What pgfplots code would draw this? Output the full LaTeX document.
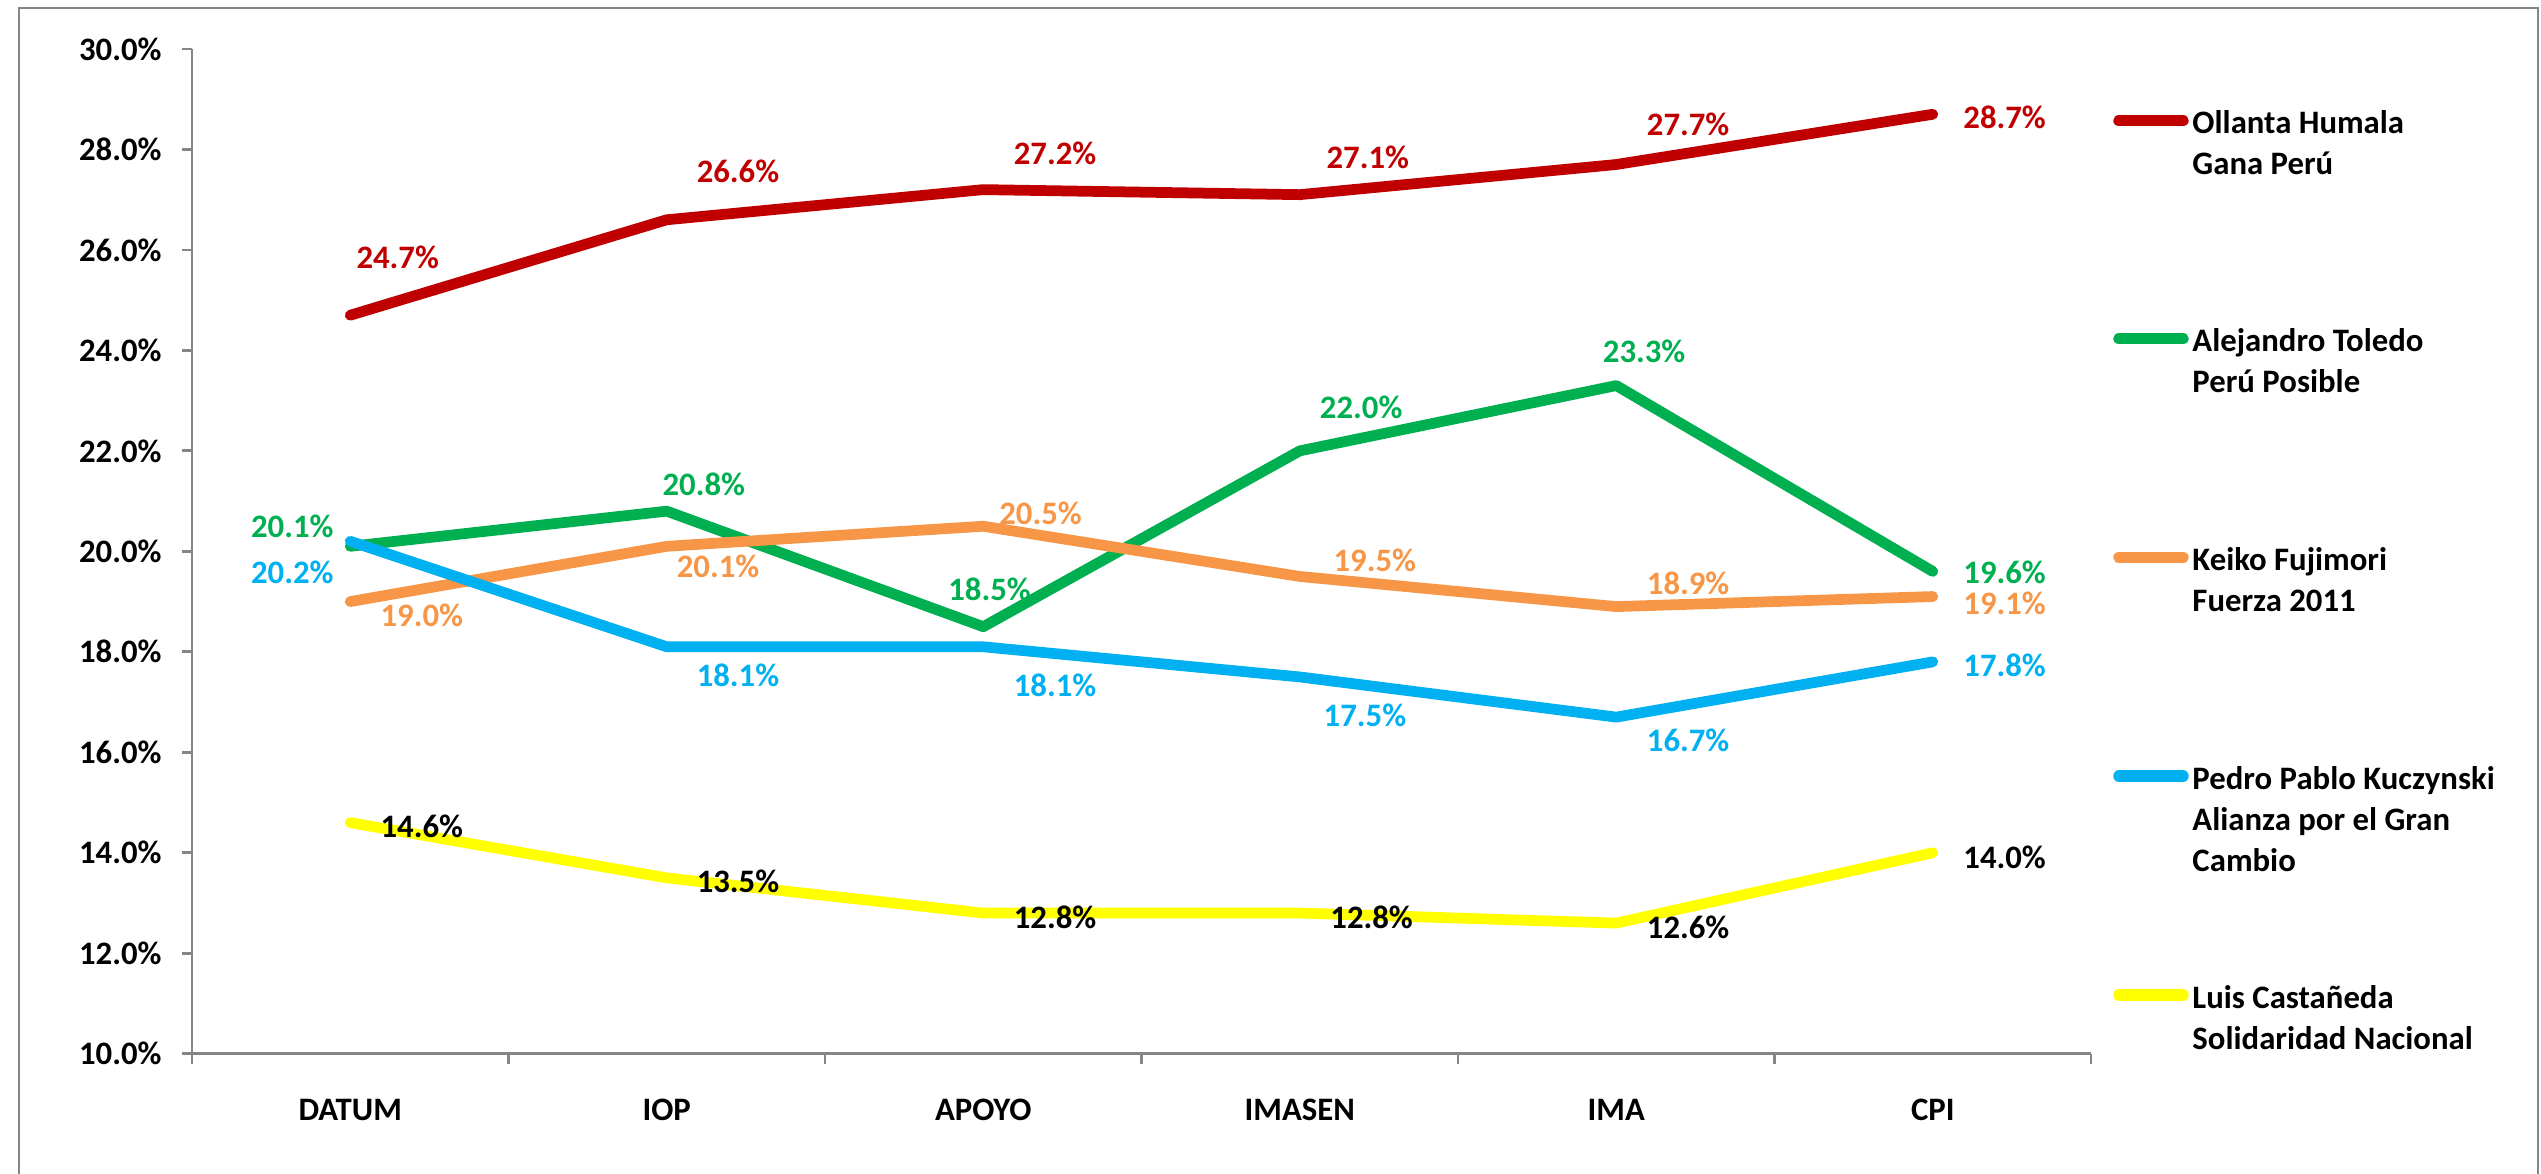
\documentclass[border=0pt]{standalone}
\usepackage{fontspec}
\setmainfont{Carlito}
\usepackage{pgfplots}
\pgfplotsset{compat=1.18}
\definecolor{cRed}{HTML}{C00000}
\definecolor{cGreen}{HTML}{00B050}
\definecolor{cOrange}{HTML}{F79646}
\definecolor{cBlue}{HTML}{00B0F0}
\definecolor{cYellow}{HTML}{FFFF00}
\definecolor{axgray}{HTML}{868686}
\newcommand{\lf}{\fontsize{13.1pt}{16.4pt}\selectfont\bfseries}
\begin{document}
\begin{tikzpicture}
\useasboundingbox (0pt,0pt) rectangle (1016.4pt,-469.2pt);
\draw[axgray, line width=1.1pt] (7.6pt,-480pt) -- (7.6pt,-3.2pt) -- (1015.2pt,-3.2pt) -- (1015.2pt,-480pt);
\begin{axis}[
  at={(76.8pt,-421.48pt)}, anchor=south west,
  width=759.6pt, height=401.9pt, scale only axis,
  xmin=-0.5, xmax=5.5, ymin=10, ymax=30,
  clip=false,
  axis x line*=bottom, axis y line*=left,
  axis line style={draw=axgray, line width=1.1pt},
  tick style={draw=axgray, line width=1.1pt},
  tick align=outside, major tick length=4pt,
  xtick={-0.5,0.5,1.5,2.5,3.5,4.5,5.5},
  x tick label as interval=true,
  xticklabels={DATUM,IOP,APOYO,IMASEN,IMA,CPI},
  ytick={10,12,...,30},
  /pgf/number format/assume math mode=true,
  yticklabel={\pgfmathprintnumber[fixed,fixed zerofill,precision=1]{\tick}\%},
  ticklabel style={font=\lf},
  yticklabel style={inner sep=0pt, xshift=-8pt},
  xticklabel style={inner sep=0pt, yshift=-14pt},
]
\addplot[cRed, line width=4.3pt, line cap=round, line join=round] coordinates {(0,24.7)(1,26.6)(2,27.2)(3,27.1)(4,27.7)(5,28.7)};
\addplot[cGreen, line width=4.3pt, line cap=round, line join=round] coordinates {(0,20.1)(1,20.8)(2,18.5)(3,22.0)(4,23.3)(5,19.6)};
\addplot[cOrange, line width=4.3pt, line cap=round, line join=round] coordinates {(0,19.0)(1,20.1)(2,20.5)(3,19.5)(4,18.9)(5,19.1)};
\addplot[cBlue, line width=4.3pt, line cap=round, line join=round] coordinates {(0,20.2)(1,18.1)(2,18.1)(3,17.5)(4,16.7)(5,17.8)};
\addplot[cYellow, line width=4.3pt, line cap=round, line join=round] coordinates {(0,14.6)(1,13.5)(2,12.8)(3,12.8)(4,12.6)(5,14.0)};
% data labels
\begin{scope}[every node/.style={font=\lf, inner sep=0pt}]
\node[text=cRed] at (axis cs:0.150,25.85) {24.7\%};
\node[text=cRed] at (axis cs:1.225,27.56) {26.6\%};
\node[text=cRed] at (axis cs:2.227,27.93) {27.2\%};
\node[text=cRed] at (axis cs:3.215,27.85) {27.1\%};
\node[text=cRed] at (axis cs:4.227,28.50) {27.7\%};
\node[text=cRed] at (axis cs:5.227,28.63) {28.7\%};
\node[text=cGreen] at (axis cs:-0.183,20.50) {20.1\%};
\node[text=cGreen] at (axis cs:1.117,21.33) {20.8\%};
\node[text=cGreen] at (axis cs:2.020,19.24) {18.5\%};
\node[text=cGreen] at (axis cs:3.194,22.87) {22.0\%};
\node[text=cGreen] at (axis cs:4.088,23.98) {23.3\%};
\node[text=cGreen] at (axis cs:5.227,19.58) {19.6\%};
\node[text=cOrange] at (axis cs:0.226,18.72) {19.0\%};
\node[text=cOrange] at (axis cs:1.162,19.70) {20.1\%};
\node[text=cOrange] at (axis cs:2.181,20.76) {20.5\%};
\node[text=cOrange] at (axis cs:3.237,19.83) {19.5\%};
\node[text=cOrange] at (axis cs:4.227,19.37) {18.9\%};
\node[text=cOrange] at (axis cs:5.227,18.96) {19.1\%};
\node[text=cBlue] at (axis cs:-0.183,19.58) {20.2\%};
\node[text=cBlue] at (axis cs:1.225,17.54) {18.1\%};
\node[text=cBlue] at (axis cs:2.227,17.34) {18.1\%};
\node[text=cBlue] at (axis cs:3.206,16.74) {17.5\%};
\node[text=cBlue] at (axis cs:4.227,16.23) {16.7\%};
\node[text=cBlue] at (axis cs:5.227,17.73) {17.8\%};
\node[text=black] at (axis cs:0.226,14.52) {14.6\%};
\node[text=black] at (axis cs:1.225,13.43) {13.5\%};
\node[text=black] at (axis cs:2.227,12.72) {12.8\%};
\node[text=black] at (axis cs:3.227,12.72) {12.8\%};
\node[text=black] at (axis cs:4.227,12.51) {12.6\%};
\node[text=black] at (axis cs:5.227,13.91) {14.0\%};
\end{scope}
\end{axis}
% legend
\begin{scope}[x=0.4pt, y=-0.4pt]
\draw[cRed, line width=4.6pt, line cap=round] (2119,120.7) -- (2183,120.7);
\draw[cGreen, line width=4.6pt, line cap=round] (2119,338.7) -- (2183,338.7);
\draw[cOrange, line width=4.6pt, line cap=round] (2119,557.4) -- (2183,557.4);
\draw[cBlue, line width=4.6pt, line cap=round] (2119,776.2) -- (2183,776.2);
\draw[cYellow, line width=4.6pt, line cap=round] (2119,995) -- (2183,995);
\begin{scope}[every node/.style={font=\lf, inner sep=0pt, anchor=base west}]
\node at (2192,133.7) {\parbox[t]{140pt}{Ollanta Humala\\Gana Perú}};
\node at (2192,351.7) {\parbox[t]{140pt}{Alejandro Toledo\\Perú Posible}};
\node at (2192,570.4) {\parbox[t]{140pt}{Keiko Fujimori\\Fuerza 2011}};
\node at (2192,789.2) {\parbox[t]{140pt}{Pedro Pablo Kuczynski\\Alianza por el Gran\\Cambio}};
\node at (2192,1008) {\parbox[t]{140pt}{Luis Castañeda\\Solidaridad Nacional}};
\end{scope}
\end{scope}
\end{tikzpicture}
\end{document}
